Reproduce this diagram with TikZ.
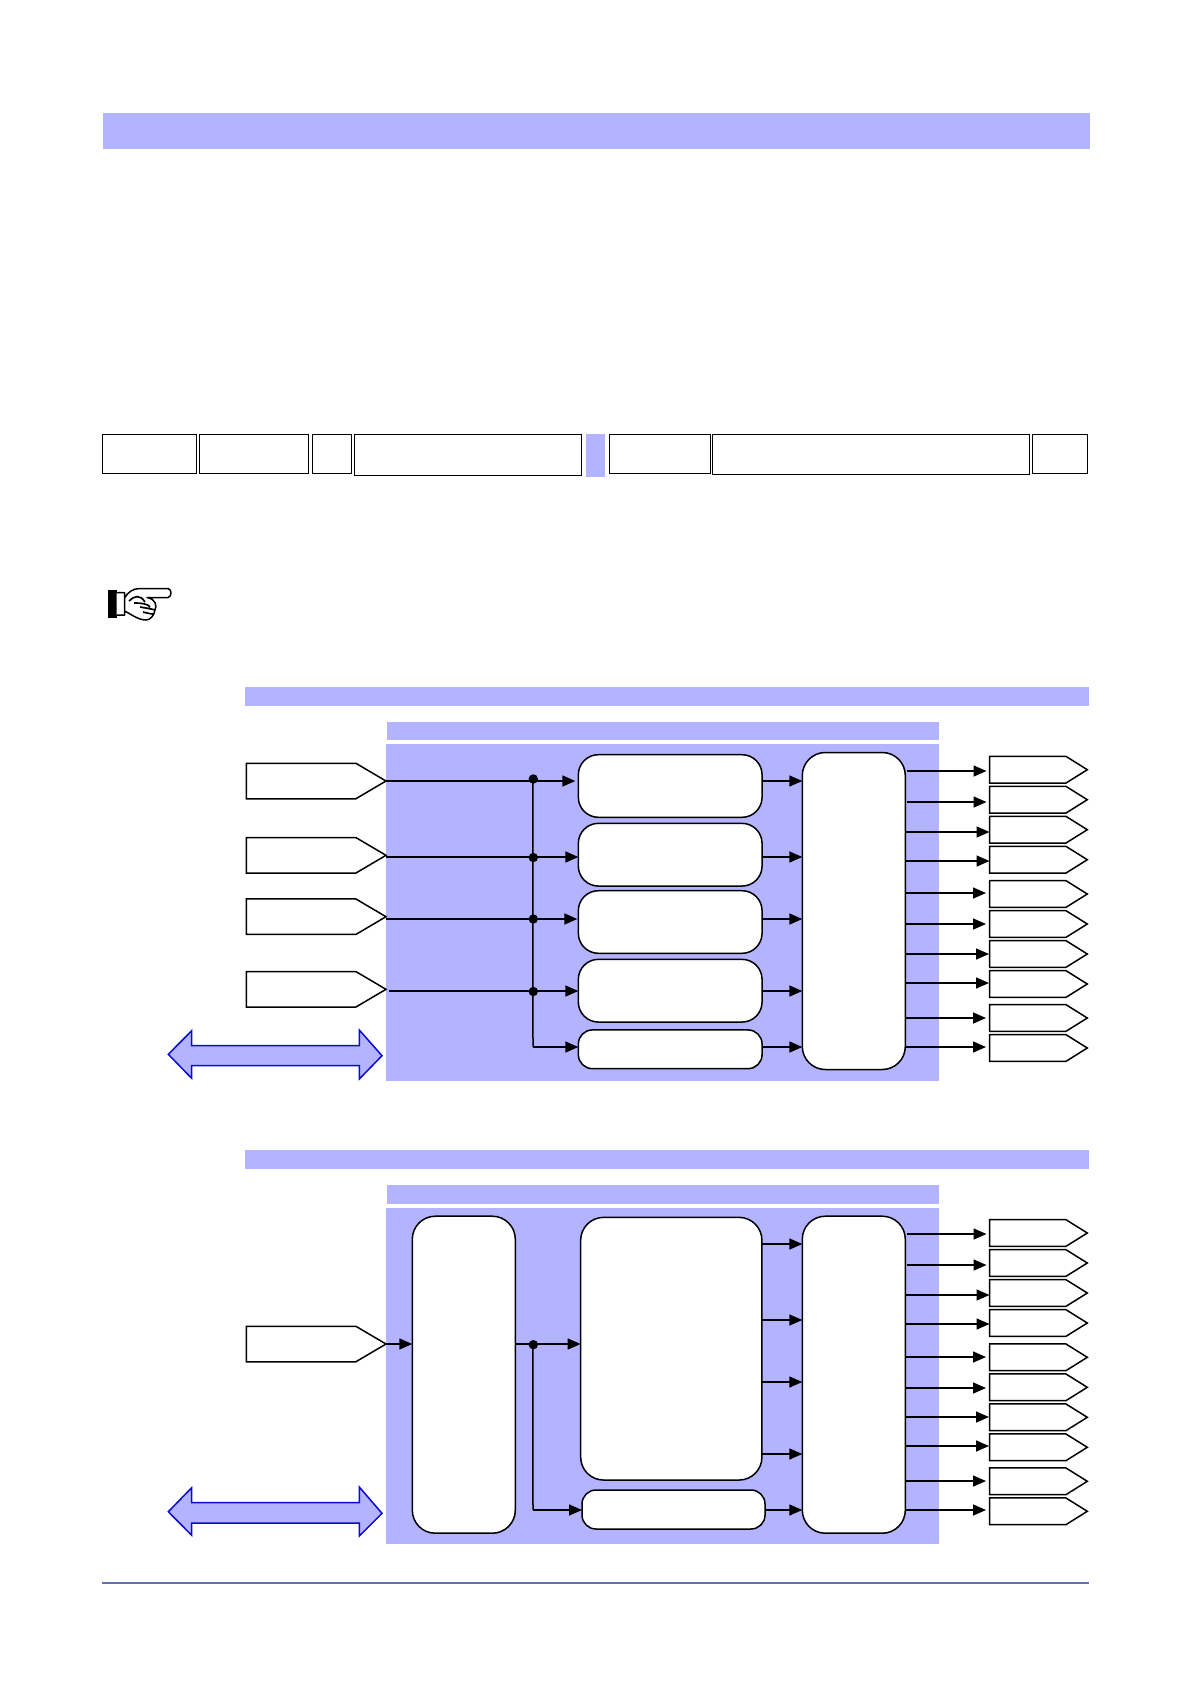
\documentclass[tikz,border=0pt]{standalone}
\usepackage{tikz}
\usepackage[dvipsnames,svgnames]{xcolor}
\usetikzlibrary{arrows.meta}
\usetikzlibrary{shapes.symbols}
\usetikzlibrary{backgrounds}
\usetikzlibrary{calc}

\definecolor{barblue}{HTML}{B3B3FF}
\definecolor{busblue}{HTML}{0A0AD2}
\definecolor{footblue}{HTML}{6670B0}

\tikzset{
  bar/.style={fill=barblue, draw=none, inner sep=0pt, outer sep=0pt},
  cell/.style={draw=black, line width=1pt, fill=white, inner sep=0pt},
  insig/.style={signal, signal to=east, signal from=nowhere, signal pointer angle=61,
    draw=black, fill=white, line width=1.5pt, inner sep=0pt, outer sep=0pt,
    minimum width=139.6pt, minimum height=35.5pt, anchor=east},
  outsig/.style={signal, signal to=east, signal from=nowhere, signal pointer angle=64,
    draw=black, fill=white, line width=1.5pt, inner sep=0pt, outer sep=0pt,
    minimum width=97.8pt, minimum height=26.7pt, anchor=east},
  blk/.style={draw=black, fill=white, line width=1.5pt, rounded corners=20pt, inner sep=0pt, outer sep=0pt},
  tall/.style={blk, rounded corners=23pt, minimum width=103pt, minimum height=317pt},
  jdot/.style={circle, fill=black, inner sep=0pt, outer sep=0pt, minimum size=9.4pt},
  wire/.style={line width=1.5pt, draw=black},
  flow/.style={wire, -{Triangle[length=13pt,width=11pt]}},
  bus/.style={draw=busblue, fill=barblue, line width=1.5pt, line join=miter}
}

\begin{document}
\begin{tikzpicture}[x=1pt,y=-1pt]
  \useasboundingbox (0,0) rectangle (1191,1684);

  % Page bars
  \path[bar] (103,113) rectangle (1090,148.7);
  \draw[footblue, line width=2pt] (102,1583) -- (1089,1583);

  % Table row
  \draw[cell] (102.6,434.5) rectangle (196,473.3);
  \draw[cell] (199,434.5) rectangle (308.6,473.3);
  \draw[cell] (312.4,434.5) rectangle (351.7,473.3);
  \draw[cell] (354.1,434.5) rectangle (581.7,475.7);
  \path[bar] (585.6,434) rectangle (604.9,477);
  \draw[cell] (609.9,434.5) rectangle (710.9,473.3);
  \draw[cell] (712.6,434.5) rectangle (1029,474.7);
  \draw[cell] (1032,434.5) rectangle (1087.5,473.3);

  % Hand
  \fill[black] (108.3,590) rectangle (116.7,617.7);
  \draw[line width=1.5pt, fill=white, line join=round]
    (116.7,592.5) -- (124.5,592.5) -- (124.5,615) -- (116.7,615)
    (124.5,598) .. controls (128,592) and (133,588.5) .. (140,588.5)
    -- (168,588.5) .. controls (172,589) and (172,597) .. (168,597.5)
    -- (147,597.5) .. controls (156,599) and (157,606) .. (155,610)
    .. controls (154,616) and (150,620) .. (146,620)
    .. controls (138,620) and (131,614) .. (124.5,611);
  \draw[line width=1.7pt]
    (129,601) .. controls (134,596) and (140,594) .. (145,602)
    (134,603) .. controls (142,603) and (148,604) .. (150,607)
    (140,607) .. controls (146,608) and (152,609) .. (155,610)
    (143,612) .. controls (147,613) and (151,614) .. (153,614);

  % Section 1
  \path[bar] (245,687) rectangle (1089,706);
  \path[bar] (387,722) rectangle (939,740);
  \path[bar] (386,744) rectangle (939,1080.7);

  \node[insig] (in1) at (386,781) {};
  \node[insig] (in2) at (386,855.3) {};
  \node[insig] (in3) at (386,916.7) {};
  \node[insig] (in4) at (386,989.3) {};

  \node[blk, minimum width=183.7pt, minimum height=62.6pt] (b1) at (670.2,786) {};
  \node[blk, minimum width=183.7pt, minimum height=62.7pt] (b2) at (670.2,854.7) {};
  \node[blk, minimum width=183.7pt, minimum height=62.6pt] (b3) at (670.2,922) {};
  \node[blk, minimum width=183.7pt, minimum height=62.7pt] (b4) at (670.2,990.7) {};
  \node[blk, rounded corners=14pt, minimum width=183.7pt, minimum height=38.7pt] (b5) at (670.2,1049.3) {};
  \node[tall] (m1) at (853.8,911) {};

  \node[jdot] (j1) at (533.3,779) {};
  \node[jdot] (j2) at (533.3,857.5) {};
  \node[jdot] (j3) at (533.3,919) {};
  \node[jdot] (j4) at (533.3,991.5) {};
  \coordinate (j5) at (533,1047);

  \draw[wire] (in1.east) -- (in1.east -| j1);
  \draw[wire] (in2.east |- 0,857) -- (533.3,857);
  \draw[wire] (in3.east |- j3) -- (j3);
  \draw[wire, shorten <=3pt] (in4.east |- 0,991) -- (533.3,991);
  \draw[wire] (532.8,779) -- (j5);

  \draw[flow, shorten >=3pt] (j1 |- 0,781) -- (b1.west |- 0,781);
  \draw[flow] (j2 |- 0,857) -- (b2.west |- 0,857);
  \draw[flow, shorten >=1pt] (j3) -- (b3.west |- j3);
  \draw[flow] (j4 |- 0,991) -- (b4.west |- 0,991);
  \draw[flow] (j5) -- (b5.west |- j5);

  \draw[flow] (b1.east |- 0,781) -- (m1.west |- 0,781);
  \draw[flow] (b2.east |- 0,857) -- (m1.west |- 0,857);
  \draw[flow] (b3.east |- 0,919) -- (m1.west |- 0,919);
  \draw[flow] (b4.east |- 0,991) -- (m1.west |- 0,991);
  \draw[flow] (b5.east |- 0,1047) -- (m1.west |- 0,1047);

  % Outputs, name/centre/wire/start gap/end gap
  \foreach \nm/\cy/\wy/\sg/\eg in {oa/769.7/771/2/3, ob/799.7/802/2/3, oc/829.7/832/0/0, od/859.7/861/0/0,
    oe/894/893/0/3.5, of/924/924/0/3.5, og/954/954/0/0.5, oh/984/983/0/0.5, oi/1018/1018/0/3.5, oj/1048/1047/0/3.5} {
    \node[outsig] (\nm) at (1087.3,\cy) {};
    \draw[flow, shorten <=\sg pt, shorten >=\eg pt] (m1.east |- 0,\wy) -- (\nm.west |- 0,\wy);
  }

  \draw[bus] (168.3,1054.3) -- (191.7,1030.7) -- (191.7,1045.7) -- (359.3,1045.7) -- (359.3,1030)
    -- (382,1055.7) -- (359.3,1079) -- (359.3,1065.7) -- (191.7,1065.7) -- (191.7,1078.3) -- cycle;

  % Section 2
  \path[bar] (245,1150) rectangle (1089,1169);
  \path[bar] (387,1185) rectangle (939,1204);
  \path[bar] (386,1208) rectangle (939,1543.7);

  \node[insig] (in5) at (386,1344) {};
  \node[tall] (a2) at (463.8,1374.7) {};
  \node[blk, rounded corners=23pt, minimum width=181.3pt, minimum height=262.7pt] (c2) at (671.3,1348.7) {};
  \node[blk, rounded corners=14pt, minimum width=183pt, minimum height=39pt] (d2) at (673.5,1509.5) {};
  \node[tall] (m2) at (853.8,1374.7) {};

  \node[jdot] (j6) at (533.3,1344.7) {};
  \coordinate (j7) at (533,1510);

  \draw[flow] (in5.east) -- (a2.west |- in5.east);
  \draw[wire] (a2.east |- 0,1344) -- (j6 |- 0,1344);
  \draw[wire] (532.8,1344.7) -- (j7);
  \draw[flow] (j6 |- 0,1344) -- (c2.west |- 0,1344);
  \draw[flow] (j7) -- (d2.west |- j7);

  \draw[flow] (c2.east |- 0,1244) -- (m2.west |- 0,1244);
  \draw[flow] (c2.east |- 0,1320) -- (m2.west |- 0,1320);
  \draw[flow] (c2.east |- 0,1382) -- (m2.west |- 0,1382);
  \draw[flow] (c2.east |- 0,1454) -- (m2.west |- 0,1454);
  \draw[flow] (d2.east |- 0,1510) -- (m2.west |- 0,1510);

  \foreach \nm/\cy/\wy/\sg/\eg in {pa/1233/1234/2/3, pb/1263/1265/2/3, pc/1293/1295/0/0, pd/1323/1324/0/0,
    pe/1357.3/1357/0/3.5, pf/1387.3/1388/0/3.5, pg/1417.3/1417/0/0.5, ph/1447.3/1446/0/0.5, pi/1481.3/1481/0/3.5, pj/1511.3/1510/0/3.5} {
    \node[outsig] (\nm) at (1087.3,\cy) {};
    \draw[flow, shorten <=\sg pt, shorten >=\eg pt] (m2.east |- 0,\wy) -- (\nm.west |- 0,\wy);
  }

  \draw[bus] (168.3,1511.7) -- (191.7,1487.7) -- (191.7,1502.7) -- (359.3,1502.7) -- (359.3,1487)
    -- (382,1513.3) -- (359.3,1536) -- (359.3,1523) -- (191.7,1523) -- (191.7,1535.3) -- cycle;
\end{tikzpicture}
\end{document}
